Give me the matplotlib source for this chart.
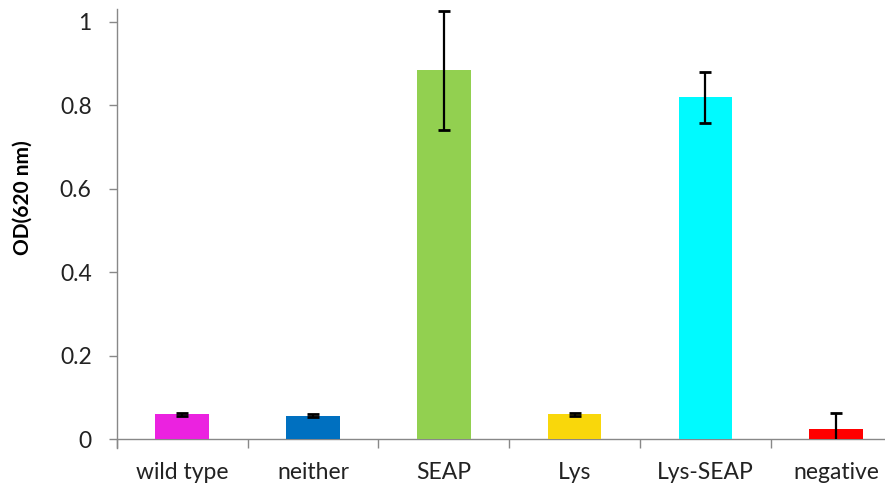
import matplotlib
matplotlib.use("Agg")
import matplotlib.pyplot as plt
import numpy as np

# OD readings per strain
strains = ["wild type", "neither", "SEAP", "Lys", "Lys-SEAP", "negative"]
od_mean = [0.060, 0.057, 0.884, 0.060, 0.819, 0.025]
od_err = [0.003, 0.003, 0.143, 0.003, 0.062, 0.039]
bar_colors = ["#EB22E0", "#0070C0", "#92D050", "#F9D70B", "#00FAFF", "#FF0000"]

plt.rcParams["font.family"] = ["Lato", "DejaVu Sans"]

fig = plt.figure(figsize=(8.85, 4.88), dpi=100)
ax = fig.add_axes([116.7 / 885, 1 - 439.3 / 488, 785 / 885, 430 / 488])

x = np.arange(len(strains))
ax.bar(x, od_mean, width=0.41, color=bar_colors, zorder=3)
ax.errorbar(x, od_mean, yerr=od_err, fmt="none", ecolor="black",
            elinewidth=1.6, capsize=4, capthick=2, zorder=4)

ax.set_xlim(-0.5, len(strains) - 0.5)
ax.set_ylim(0, 1.03)

# y axis
ax.set_yticks([0, 0.2, 0.4, 0.6, 0.8, 1.0])
ax.set_yticklabels(["0", "0.2", "0.4", "0.6", "0.8", "1"])
ax.tick_params(axis="y", direction="out", length=6, width=1, color="#888888",
               pad=12, labelsize=16.5, labelcolor="#222222")
ax.set_ylabel("OD(620 nm)", fontsize=15, fontweight="bold")
ax.yaxis.set_label_coords(-0.107, 0.561)

# x axis: labels at centres, tick marks between categories
ax.set_xticks(x)
ax.set_xticklabels(strains)
ax.tick_params(axis="x", which="major", length=0, pad=16, labelsize=16.5,
               labelcolor="#222222")
ax.set_xticks(np.arange(-0.5, len(strains), 1), minor=True)
ax.tick_params(axis="x", which="minor", direction="out", length=6.5, width=1,
               color="#888888")

for side in ["top", "right"]:
    ax.spines[side].set_visible(False)
for side in ["left", "bottom"]:
    ax.spines[side].set_color("#888888")
    ax.spines[side].set_linewidth(1)
ax.spines["left"].set_bounds(-0.022, 1.03)

fig.savefig("out.png", dpi=100)
